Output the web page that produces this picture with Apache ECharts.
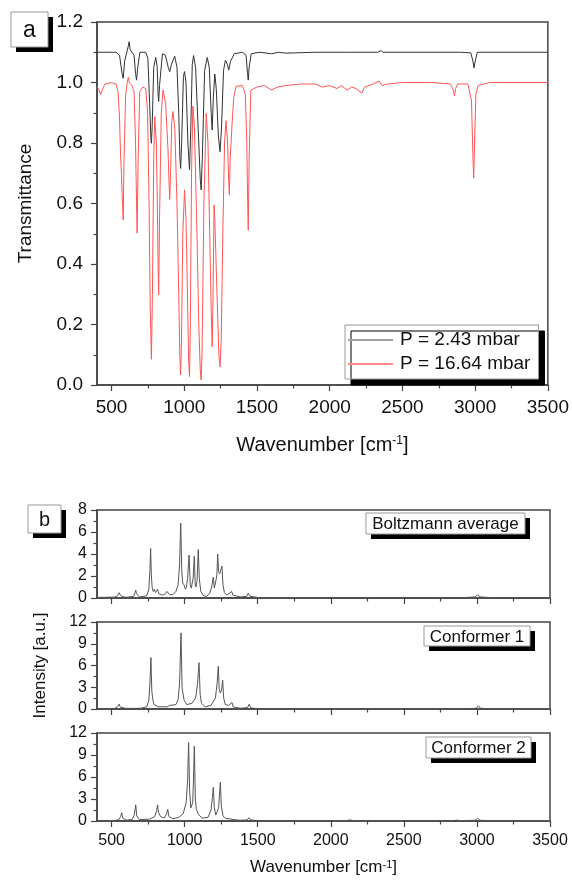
<!DOCTYPE html>
<html>
<head>
<meta charset="utf-8">
<script src="https://cdn.jsdelivr.net/npm/echarts@6/dist/echarts.min.js"></script>
<style>
html,body{margin:0;padding:0;background:#fff;}
#chart{width:572px;height:881px;}
</style>
</head>
<body>
<div id="chart"></div>
<script>
// ---------- DATA ----------
const majorTicks = [500, 1000, 1500, 2000, 2500, 3000, 3500];
const minorTicks = [750, 1250, 1750, 2250, 2750, 3250];
const seriesNames = ['P = 2.43 mbar', 'P = 16.64 mbar'];
const panelLabels = ['Boltzmann average', 'Conformer 1', 'Conformer 2'];

// Panel a: P = 2.43 mbar (black trace)
const wnLow = [400,530,555,572,580,590,605,615,621,627,640,655,665,672,680,695,735,750,762,770,774,779,790,804,814,820,824,830,850,870,890,900,912,934,950,962,970,975,982,994,1002,1012,1025,1036,1045,1055,1064,1078,1098,1110,1116,1124,1140,1158,1172,1185,1192,1200,1210,1220,1235,1246,1256,1270,1283,1296,1306,1318,1344,1400,1425,1435,1440,1446,1460,1520,1600,1650,1700,1900,2100,2330,2350,2370,2900,2970,2985,2992,3000,3015,3500];
const tLow  = [1.10,1.10,1.09,1.03,1.014,1.07,1.10,1.12,1.135,1.11,1.10,1.09,1.03,1.008,1.05,1.10,1.10,1.08,0.93,0.82,0.799,0.85,1.05,1.083,1.05,0.96,0.937,0.99,1.095,1.09,1.05,1.036,1.06,1.087,1.05,0.90,0.75,0.716,0.80,1.02,1.036,1.00,0.80,0.711,0.85,1.06,1.089,1.05,0.82,0.68,0.645,0.75,1.04,1.083,1.05,0.90,0.843,0.95,1.028,0.98,0.82,0.771,0.85,1.04,1.074,1.06,1.041,1.07,1.095,1.10,1.09,1.03,1.008,1.05,1.095,1.10,1.095,1.10,1.097,1.10,1.10,1.10,1.105,1.10,1.10,1.098,1.07,1.048,1.07,1.10,1.10];

// Panel a: P = 16.64 mbar (red trace)
const wnHigh = [400,415,425,432,440,455,500,530,545,555,562,568,575,580,586,597,608,615,622,640,655,665,672,676,683,694,715,735,748,758,766,774,781,790,797,808,815,820,824,830,842,854,872,888,896,900,906,914,922,935,950,962,970,975,981,990,1002,1012,1020,1030,1036,1042,1050,1059,1070,1085,1100,1110,1116,1122,1135,1151,1163,1175,1185,1192,1198,1205,1210,1222,1238,1246,1254,1265,1277,1287,1298,1305,1310,1316,1329,1340,1356,1400,1420,1430,1436,1440,1446,1458,1500,1550,1600,1640,1700,1800,1900,1950,2000,2050,2080,2120,2150,2180,2220,2240,2300,2340,2360,2400,2500,2700,2830,2850,2858,2866,2880,2950,2975,2985,2990,2996,3005,3020,3100,3500];
const tHigh  = [0.985,0.975,0.96,0.959,0.98,0.995,1.0,0.995,0.97,0.88,0.76,0.70,0.60,0.545,0.75,0.96,1.0,1.017,1.0,0.99,0.97,0.80,0.60,0.502,0.75,0.97,0.985,0.98,0.90,0.60,0.25,0.085,0.30,0.75,0.887,0.80,0.60,0.40,0.298,0.55,0.90,0.975,0.93,0.78,0.66,0.614,0.70,0.87,0.904,0.85,0.60,0.30,0.09,0.033,0.15,0.50,0.645,0.55,0.35,0.08,0.028,0.20,0.70,0.922,0.85,0.55,0.20,0.05,0.017,0.10,0.60,0.898,0.80,0.50,0.25,0.127,0.30,0.595,0.55,0.35,0.10,0.06,0.15,0.50,0.80,0.874,0.80,0.68,0.628,0.75,0.865,0.95,0.987,0.99,0.96,0.80,0.60,0.512,0.75,0.975,0.985,0.99,0.975,0.985,0.99,0.995,0.995,0.985,0.99,0.98,0.99,0.975,0.985,0.98,0.965,0.985,0.995,1.005,0.99,0.995,1.0,1.0,0.995,0.975,0.955,0.98,0.995,0.995,0.94,0.75,0.684,0.80,0.96,0.99,1.0,1.0];

// Panel b: Boltzmann average
const wnBoltz = [400,520,540,550,556,562,568,600,650,660,665,670,690,740,755,762,767,772,778,785,792,800,810,815,822,850,870,878,884,890,898,920,940,955,965,973,980,986,995,1005,1012,1020,1030,1038,1045,1052,1058,1066,1072,1078,1085,1093,1100,1110,1130,1150,1170,1185,1196,1203,1212,1220,1226,1232,1240,1248,1255,1262,1272,1285,1300,1310,1322,1330,1380,1425,1436,1448,1500,2000,2500,2900,2990,3005,3020,3100,3500];
const iBoltz  = [0.05,0.08,0.2,0.48,0.3,0.4,0.15,0.06,0.15,0.5,0.73,0.4,0.1,0.2,0.8,2.5,4.5,2.0,0.9,0.6,0.8,0.5,0.6,0.8,0.4,0.25,0.4,0.6,0.45,0.55,0.3,0.3,0.6,1.2,3.0,6.8,2.5,1.4,1.2,0.8,1.0,1.8,3.9,1.2,0.9,1.0,1.8,3.8,1.2,1.0,1.6,4.4,1.8,0.6,0.2,0.15,0.4,1.0,1.9,0.9,0.9,2.0,4.0,2.4,2.2,2.6,2.9,1.2,0.5,0.3,0.35,0.3,0.6,0.25,0.1,0.15,0.45,0.15,0.05,0.03,0.03,0.03,0.1,0.3,0.1,0.03,0.03];

// Panel b: Conformer 1
const wnConf1 = [400,520,540,551,560,600,700,740,755,762,769,775,782,790,820,880,898,904,910,940,955,965,975,982,988,995,1003,1015,1050,1075,1088,1098,1106,1115,1140,1180,1210,1222,1230,1236,1244,1252,1260,1267,1278,1290,1300,1310,1324,1332,1380,1430,1441,1452,1500,2000,2500,2900,2995,3010,3025,3100,3500];
const iConf1  = [0.05,0.08,0.3,0.68,0.25,0.08,0.1,0.3,1.2,3.5,7.1,2.5,1.3,0.6,0.3,0.3,0.5,0.7,0.4,0.6,1.3,3.5,10.5,3.0,2.2,1.3,1.0,0.6,0.8,1.5,3.5,6.4,2.0,0.8,0.3,0.5,1.5,3.5,5.9,2.8,2.2,2.6,4.0,1.5,0.6,0.4,0.5,0.35,0.9,0.3,0.1,0.2,0.65,0.15,0.05,0.03,0.03,0.03,0.1,0.45,0.1,0.03,0.03];

// Panel b: Conformer 2
const wnConf2 = [400,415,420,426,520,550,562,569,576,600,640,655,665,672,690,760,795,808,815,820,826,835,860,875,884,892,920,960,990,1010,1020,1027,1034,1042,1048,1055,1060,1066,1073,1080,1087,1093,1120,1160,1180,1190,1196,1203,1213,1222,1232,1238,1244,1251,1262,1280,1310,1330,1380,1428,1440,1452,1500,2110,2130,2150,2840,2860,2880,2990,3005,3020,3100,3500];
const iConf2  = [0.05,0.08,0.15,0.05,0.06,0.2,0.6,1.13,0.4,0.12,0.2,0.8,2.2,0.7,0.2,0.25,0.6,1.4,2.2,1.2,1.0,0.6,0.4,0.9,1.6,0.6,0.3,0.5,1.0,2.5,5.5,10.7,4.0,1.8,1.6,2.5,5.5,10.2,3.0,1.6,1.3,0.9,0.4,0.5,1.5,3.2,4.6,1.8,0.8,0.6,1.8,3.5,5.3,2.0,0.7,0.35,0.3,0.2,0.1,0.15,0.45,0.15,0.05,0.05,0.15,0.05,0.05,0.12,0.05,0.1,0.4,0.1,0.05,0.05];

// ---------- CHART ----------
const zip = (a, b) => a.map((v, i) => [v, b[i]]);
const FONT = 'Liberation Sans, Arial, sans-serif';
const TXT = '#111';
const AX = '#444';

const grids = [
  {left: 97, top: 22, width: 453, height: 363},
  {left: 97, top: 510, width: 453, height: 88},
  {left: 97, top: 622, width: 453, height: 87},
  {left: 97, top: 733, width: 453, height: 88}
].map(g => Object.assign(g, {show: true, borderColor: AX, borderWidth: 1.5, backgroundColor: 'transparent', containLabel: false}));

const xAxes = [];
grids.forEach((g, i) => {
  const isA = i === 0, showLbl = (i === 0 || i === 3);
  const fs = isA ? 19 : 16;
  xAxes.push({
    gridIndex: i, type: 'value', min: 400, max: 3500, position: 'bottom',
    axisLine: {show: true, onZero: false, lineStyle: {color: AX, width: 1.5}},
    axisTick: {show: true, inside: false, length: 6, customValues: majorTicks, lineStyle: {color: AX, width: 1.2}},
    axisLabel: {show: showLbl, customValues: majorTicks, margin: isA ? 13 : 12, fontSize: fs, color: TXT, fontFamily: FONT,
      formatter: v => String(v)},
    splitLine: {show: false},
    name: showLbl ? 'Wavenumber [cm{sup|-1}]' : '',
    nameLocation: 'middle', nameGap: isA ? 50 : 38,
    nameTextStyle: {fontSize: isA ? 20 : 17, color: TXT, fontFamily: FONT,
      rich: {sup: {fontSize: isA ? 12 : 11, verticalAlign: 'top', fontFamily: FONT, color: TXT}}}
  });
  xAxes.push({
    gridIndex: i, type: 'value', min: 400, max: 3500, position: 'bottom',
    axisLine: {show: false, onZero: false},
    axisTick: {show: true, inside: false, length: 3.5, customValues: minorTicks, lineStyle: {color: AX, width: 1.2}},
    axisLabel: {show: false},
    splitLine: {show: false}
  });
});

const yCommon = (i, max, interval, fs, margin) => ({
  gridIndex: i, type: 'value', min: 0, max: max, interval: interval,
  axisLine: {show: true, onZero: false, lineStyle: {color: AX, width: 1.5}},
  axisTick: {show: true, inside: false, length: 6, lineStyle: {color: AX, width: 1.2}},
  minorTick: {show: true, splitNumber: 2, length: 3.5, lineStyle: {color: AX, width: 1.2}},
  axisLabel: {fontSize: fs, color: TXT, fontFamily: FONT, margin: margin,
    formatter: max === 1.2 ? (v => v.toFixed(1)) : (v => String(v))},
  splitLine: {show: false}
});

const yAxes = [
  Object.assign(yCommon(0, 1.2, 0.2, 19, 14), {name: 'Transmittance', nameLocation: 'middle', nameGap: 62,
    nameTextStyle: {fontSize: 19, color: TXT, fontFamily: FONT}}),
  yCommon(1, 8, 2, 16, 10),
  Object.assign(yCommon(2, 12, 3, 16, 10), {name: 'Intensity [a.u.]', nameLocation: 'middle', nameGap: 48,
    nameTextStyle: {fontSize: 17, color: TXT, fontFamily: FONT}}),
  yCommon(3, 12, 3, 16, 10)
];

const lineSeries = (name, data, xi, yi, color, w) => ({
  name: name, type: 'line', xAxisIndex: xi, yAxisIndex: yi, data: data,
  showSymbol: false, symbol: 'none', smooth: false, animation: false,
  lineStyle: {color: color, width: w}, itemStyle: {color: color}
});

const series = [
  lineSeries(seriesNames[1], zip(wnHigh, tHigh), 0, 0, '#ff5555', 1),
  lineSeries(seriesNames[0], zip(wnLow, tLow), 0, 0, '#333', 1),
  lineSeries('b1', zip(wnBoltz, iBoltz), 2, 1, '#555', 1),
  lineSeries('b2', zip(wnConf1, iConf1), 4, 2, '#555', 1),
  lineSeries('b3', zip(wnConf2, iConf2), 6, 3, '#555', 1)
];

function boxLabel(text, x, y, w, h, fs) {
  return {
    type: 'group', children: [
      {type: 'rect', shape: {x: x + 5, y: y + 5, width: w, height: h}, style: {fill: '#000'}},
      {type: 'rect', shape: {x: x, y: y, width: w, height: h}, style: {fill: '#fff', stroke: '#999', lineWidth: 1}},
      {type: 'text', style: {text: text, x: x + w / 2, y: y + h / 2 + 1, align: 'center', verticalAlign: 'middle',
        fontSize: fs, fontFamily: FONT, fill: TXT}}
    ]
  };
}

const option = {
  backgroundColor: '#fff',
  animation: false,
  grid: grids,
  xAxis: xAxes,
  yAxis: yAxes,
  series: series,
  legend: {
    show: true, orient: 'vertical', left: 345, top: 325,
    icon: 'rect',
    data: [
      {name: seriesNames[0], itemStyle: {color: '#a0a0a0'}},
      {name: seriesNames[1], itemStyle: {color: '#ff8a8a'}}
    ],
    itemWidth: 45, itemHeight: 2, itemGap: 2,
    padding: [4, 8, 4, 3],
    backgroundColor: '#fff', borderColor: '#999', borderWidth: 1,
    shadowColor: '#000', shadowBlur: 0, shadowOffsetX: 6, shadowOffsetY: 6,
    textStyle: {fontSize: 19, color: TXT, fontFamily: FONT, lineHeight: 22, padding: [0, 0, 0, 2]}
  },
  graphic: [
    boxLabel('a', 11, 12, 37, 35, 23),
    boxLabel('b', 28, 505, 33, 28, 20),
    boxLabel(panelLabels[0], 366, 513, 159, 21, 17),
    boxLabel(panelLabels[1], 424, 626, 106, 20, 17),
    boxLabel(panelLabels[2], 426, 737, 105, 21, 17)
  ]
};

const chart = echarts.init(document.getElementById('chart'), null, {renderer: 'canvas'});
chart.setOption(option);
</script>
</body>
</html>
